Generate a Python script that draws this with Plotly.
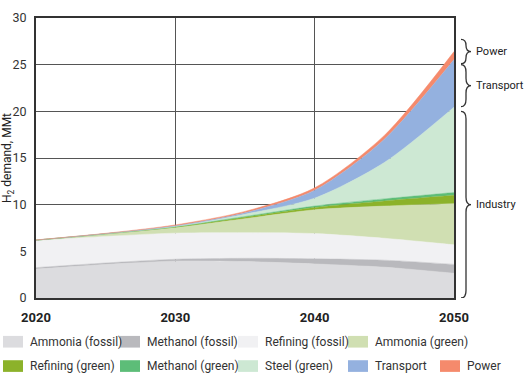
import plotly.graph_objects as go

# ---------------- data ----------------
years = [2020, 2025, 2030, 2035, 2040, 2045, 2050]

ammonia_fossil  = [3.10, 3.60, 3.95, 3.90, 3.65, 3.30, 2.65]
methanol_fossil = [0.15, 0.15, 0.20, 0.35, 0.55, 0.75, 0.95]
refining_fossil = [2.90, 2.85, 2.80, 2.75, 2.70, 2.35, 2.10]
ammonia_green   = [0.05, 0.25, 0.60, 1.50, 2.55, 3.45, 4.40]
refining_green  = [0.00, 0.02, 0.05, 0.15, 0.25, 0.55, 0.90]
methanol_green  = [0.00, 0.01, 0.03, 0.08, 0.15, 0.22, 0.30]
steel_green     = [0.00, 0.01, 0.05, 0.25, 0.85, 3.90, 9.15]
transport       = [0.00, 0.01, 0.05, 0.15, 0.85, 2.50, 5.10]
power           = [0.02, 0.03, 0.10, 0.15, 0.25, 0.40, 0.85]

series_names = ["Ammonia (fossil)", "Methanol (fossil)", "Refining (fossil)", "Ammonia (green)",
                "Refining (green)", "Methanol (green)", "Steel (green)", "Transport", "Power"]
series_values = [ammonia_fossil, methanol_fossil, refining_fossil, ammonia_green,
                 refining_green, methanol_green, steel_green, transport, power]
series_colors = ["#dcdcdf", "#b9b9bd", "#f1f1f3", "#d0dfb2",
                 "#8cb22a", "#5dbd78", "#cde8d3", "#94b1df", "#f58a6c"]

x_ticks = [2020, 2030, 2040, 2050]
y_ticks = [0, 5, 10, 15, 20, 25, 30]

groups = [("Power", 25.1, 27.7), ("Transport", 20.5, 25.0), ("Industry", 0.0, 20.0)]

FONT = "Roboto, Liberation Sans Narrow, sans-serif"

# ---------------- layout geometry (pixels) ----------------
W, H = 525, 377
L, R, T, B = 36, 454, 10, 298


def pxx(x):
    return (x - L) / (R - L)


def pxy(y):
    return (B - y) / (B - T)


fig = go.Figure()
for name, vals, col in zip(series_names, series_values, series_colors):
    fig.add_trace(go.Scatter(
        x=years, y=vals, name=name, stackgroup="one", mode="lines",
        line=dict(color=col, width=0.5, shape="spline", smoothing=0.8),
        fillcolor=col, showlegend=False, hoverinfo="x+y+name"))

shapes = []
annotations = []

# manual legend (two rows)
legend_pos = [(3, 343), (120, 343), (238, 343), (348, 343),
              (3, 368), (120, 368), (238, 368), (348, 368), (440, 368)]
for (lx, ly), name, col in zip(legend_pos, series_names, series_colors):
    shapes.append(dict(type="rect", xref="paper", yref="paper",
                       x0=pxx(lx), x1=pxx(lx + 20), y0=pxy(ly + 6), y1=pxy(ly - 6),
                       fillcolor=col, line=dict(width=0)))
    annotations.append(dict(xref="paper", yref="paper", x=pxx(lx + 25), y=pxy(ly),
                            text=name, showarrow=False, xanchor="left", yanchor="middle",
                            font=dict(family=FONT, size=12, color="#333333")))

# braces on the right
bx0 = pxx(461)
bw = pxx(471) - pxx(461)
for label, y0, y1 in groups:
    r = min(0.8, (y1 - y0) / 4)
    ym = (y0 + y1) / 2
    xa = bx0 + bw / 2
    xb = bx0 + bw
    path = (f"M {bx0},{y1} Q {xa},{y1} {xa},{y1 - r} L {xa},{ym + r} "
            f"Q {xa},{ym} {xb},{ym} Q {xa},{ym} {xa},{ym - r} "
            f"L {xa},{y0 + r} Q {xa},{y0} {bx0},{y0}")
    shapes.append(dict(type="path", xref="paper", yref="y", path=path,
                       line=dict(color="#333333", width=1.3)))
    annotations.append(dict(xref="paper", yref="y", x=pxx(474), y=ym, text=label,
                            showarrow=False, xanchor="left", yanchor="middle",
                            font=dict(family=FONT, size=11, color="#222222")))

# y axis title
annotations.append(dict(xref="paper", yref="paper", x=pxx(8), y=0.5,
                        text="H<sub>2</sub> demand, MMt", textangle=-90, showarrow=False,
                        xanchor="center", yanchor="middle",
                        font=dict(family=FONT, size=12, color="#222222")))

fig.update_layout(
    width=W, height=H,
    margin=dict(l=L, r=W - R, t=T, b=H - B),
    paper_bgcolor="white", plot_bgcolor="white",
    shapes=shapes, annotations=annotations,
    showlegend=False,
    xaxis=dict(range=[2020, 2050], tickvals=x_ticks, ticktext=[f"<b>{v}</b>" for v in x_ticks],
               showgrid=True, gridcolor="#555555", gridwidth=1.2,
               showline=True, linecolor="#333333", linewidth=2, mirror=True,
               ticks="", ticklen=0, zeroline=False, ticklabelstandoff=6,
               tickfont=dict(family=FONT, size=13, color="#222222")),
    yaxis=dict(range=[0, 30], tickvals=y_ticks, showgrid=True, gridcolor="#555555", gridwidth=1.2,
               showline=True, linecolor="#333333", linewidth=2, mirror=True,
               ticks="", zeroline=False, ticklabelstandoff=5,
               tickfont=dict(family=FONT, size=12.5, color="#333333")),
)

fig.write_html("out.html", config={"displayModeBar": False},
               post_script="document.body.style.margin='0';")
